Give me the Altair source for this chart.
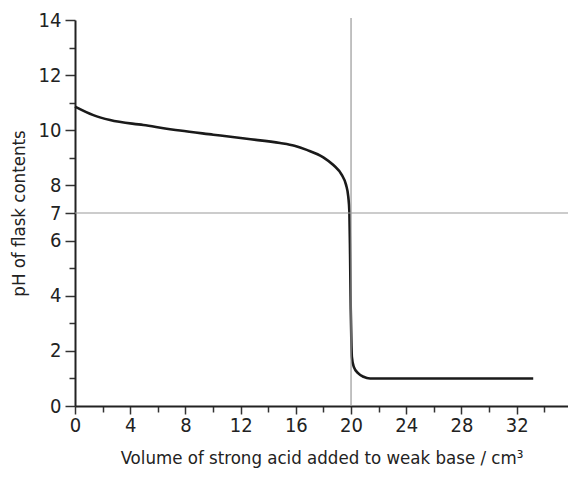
import altair as alt
import pandas as pd

# titration curve: volume of strong acid (cm3) vs pH
volume = [0, 1.33, 2.54, 4.95, 7.61, 10.02, 12.44, 14.86, 15.9, 16.79, 17.99, 18.72,
          19.33, 19.64, 19.80, 19.88, 19.93, 19.98, 20.03, 20.06, 20.2, 20.53, 20.9,
          21.38, 33.2]
ph = [10.86, 10.55, 10.37, 10.19, 9.99, 9.84, 9.69, 9.54, 9.44, 9.29, 9.02, 8.74,
      8.38, 8.02, 7.59, 7.05, 5.5, 3.5, 2.2, 1.78, 1.42, 1.18, 1.06,
      1.0, 1.0]

x_ticks = list(range(0, 36, 2))
y_ticks = list(range(0, 15))
y_labels = [0, 2, 4, 6, 7, 8, 10, 12, 14]
equiv_volume = [20]
neutral_ph = [7]

FONT = "Liberation Sans Narrow, DejaVu Sans Condensed, sans-serif"
W, H = 493, 386
XMAX = 35.72

df = pd.DataFrame({"volume": volume, "ph": ph})

xscale = alt.Scale(domain=[0, XMAX], nice=False, zero=False)
yscale = alt.Scale(domain=[0, 14], nice=False)

ylab_list = "[" + ",".join(str(v) for v in y_labels) + "]"

x_axis = alt.Axis(
    title="Volume of strong acid added to weak base / cm³",
    values=x_ticks,
    labelExpr="datum.value % 4 == 0 ? datum.label : ''",
    labelFlush=False, labelOverlap=False,
    grid=False,
    domainColor="#222", domainWidth=2,
    tickColor="#333", tickWidth=1.5,
    tickSize={"condition": {"test": "datum.value % 4 == 0", "value": 8}, "value": 6},
    labelFont=FONT, labelFontSize=20, labelColor="#222", labelPadding=1,
    titleFont=FONT, titleFontSize=18.5, titleFontWeight="normal", titleColor="#222",
    titlePadding=13,
)
y_axis = alt.Axis(
    title="pH of flask contents",
    values=y_ticks,
    labelExpr=f"indexof({ylab_list}, datum.value) >= 0 ? datum.label : ''",
    labelFlush=False, labelOverlap=False,
    grid=False,
    domainColor="#222", domainWidth=2,
    tickColor="#333", tickWidth=1.5,
    tickSize={"condition": {"test": f"indexof({ylab_list}, datum.value) >= 0", "value": 10}, "value": 6},
    labelFont=FONT, labelFontSize=20, labelColor="#222", labelPadding=4,
    titleFont=FONT, titleFontSize=18.5, titleFontWeight="normal", titleColor="#222",
    titlePadding=10,
)

vline = alt.Chart(pd.DataFrame({"volume": equiv_volume})).mark_rule(
    color="#999", strokeWidth=1.2
).encode(x=alt.X("volume:Q", scale=xscale, axis=x_axis), y=alt.value(-2), y2=alt.value(H))

hline = alt.Chart(pd.DataFrame({"ph": neutral_ph})).mark_rule(
    color="#999", strokeWidth=1.2
).encode(y=alt.Y("ph:Q", scale=yscale, axis=y_axis), x=alt.value(0), x2=alt.value(W))

curve = alt.Chart(df).mark_line(
    color="#1a1a1a", strokeWidth=2.6, interpolate="monotone"
).encode(
    x=alt.X("volume:Q", scale=xscale, axis=x_axis),
    y=alt.Y("ph:Q", scale=yscale, axis=y_axis),
)

chart = alt.layer(curve, vline, hline).properties(
    width=W, height=H,
    autosize=alt.AutoSizeParams(type="none"),
    padding={"left": 67, "top": 12, "right": 0, "bottom": 62},
).configure(
    background="white",
    view=alt.ViewConfig(stroke=None),
    axis=alt.AxisConfig(labelOverlap=False),
)

chart.save("out.html", embed_options={"renderer": "svg", "actions": False})
